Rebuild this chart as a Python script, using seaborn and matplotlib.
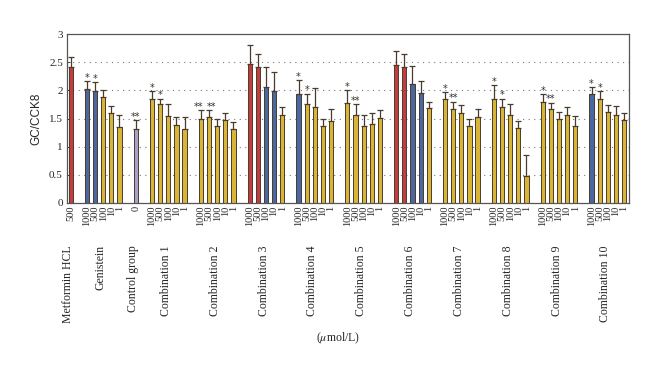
import matplotlib
matplotlib.use("Agg")
import matplotlib.pyplot as plt
import matplotlib.transforms as mtransforms
import numpy as np
import pandas as pd
import seaborn as sns

# groups and doses (umol/L)
groups = ["Metformin HCL", "Genistein", "Control group"] + [f"Combination {i}" for i in range(1, 11)]
doses = [["500"], ["1000", "500", "100", "10", "1"], ["0"]] + [["1000", "500", "100", "10", "1"]] * 10

means = [
    [2.42],
    [2.03, 1.98, 1.885, 1.59, 1.35],
    [1.32],
    [1.855, 1.75, 1.54, 1.39, 1.32],
    [1.49, 1.52, 1.375, 1.48, 1.32],
    [2.47, 2.42, 2.06, 1.99, 1.56],
    [1.94, 1.75, 1.70, 1.375, 1.46],
    [1.78, 1.56, 1.36, 1.41, 1.51],
    [2.45, 2.42, 2.12, 1.96, 1.69],
    [1.855, 1.665, 1.59, 1.36, 1.53],
    [1.855, 1.70, 1.565, 1.34, 0.48],
    [1.80, 1.66, 1.49, 1.56, 1.375],
    [1.94, 1.84, 1.61, 1.565, 1.47],
]
err_top = [
    [2.60],
    [2.16, 2.15, 2.00, 1.72, 1.57],
    [1.47],
    [1.98, 1.85, 1.75, 1.53, 1.53],
    [1.65, 1.65, 1.49, 1.60, 1.44],
    [2.80, 2.64, 2.41, 2.32, 1.70],
    [2.18, 1.94, 2.05, 1.49, 1.67],
    [2.00, 1.75, 1.57, 1.60, 1.65],
    [2.69, 2.64, 2.44, 2.17, 1.80],
    [1.97, 1.80, 1.74, 1.49, 1.66],
    [2.09, 1.85, 1.75, 1.46, 0.85],
    [1.93, 1.78, 1.61, 1.70, 1.55],
    [2.06, 1.99, 1.74, 1.73, 1.60],
]
kinds = [
    ["r"],
    ["b", "b", "y", "y", "y"],
    ["p"],
    ["y"] * 5,
    ["y"] * 5,
    ["r", "r", "b", "b", "y"],
    ["b", "y", "y", "y", "y"],
    ["y"] * 5,
    ["r", "r", "b", "b", "y"],
    ["y"] * 5,
    ["y"] * 5,
    ["y"] * 5,
    ["b", "y", "y", "y", "y"],
]
stars = [
    [""],
    ["*", "*", "", "", ""],
    ["**"],
    ["*", "*", "", "", ""],
    ["**", "**", "", "", ""],
    ["", "", "", "", ""],
    ["*", "*", "", "", ""],
    ["*", "**", "", "", ""],
    ["", "", "", "", ""],
    ["*", "**", "", "", ""],
    ["*", "*", "", "", ""],
    ["*", "**", "", "", ""],
    ["*", "*", "", "", ""],
]

palette = {"r": "#d9262b", "b": "#3a62ae", "y": "#f3c31c", "p": "#a39bd2"}

rows = []
pos = 0
centers = []
for g, ds, ms, es, ks, ss in zip(groups, doses, means, err_top, kinds, stars):
    start = pos
    for d, m, e, k, s in zip(ds, ms, es, ks, ss):
        rows.append(dict(group=g, dose=d, pos=pos, mean=m, top=e, kind=k, star=s))
        pos += 1
    centers.append((start + pos - 1) / 2)
    pos += 1  # empty slot between groups
df = pd.DataFrame(rows)

sns.set_style("white")
plt.rcParams["font.family"] = ["Liberation Serif", "DejaVu Serif"]
plt.rcParams["mathtext.fontset"] = "stix"

fig = plt.figure(figsize=(6.6, 3.73), dpi=100)
ax = fig.add_axes([0.1015, 0.4558, 0.8515, 0.453])

sns.barplot(
    data=df, x="pos", y="mean", hue="kind", palette=palette,
    native_scale=True, dodge=False, width=0.52, errorbar=None,
    edgecolor="#4a3c2c", linewidth=0.7, legend=False, ax=ax,
)
ax.errorbar(
    df["pos"], df["mean"], yerr=[np.zeros(len(df)), df["top"] - df["mean"]],
    fmt="none", ecolor="#4a3c2c", elinewidth=0.9, capsize=2.4, capthick=0.9,
)
# significance stars, nudged apart when two "**" sit side by side
star_list = df["star"].tolist()
for i, r in df.iterrows():
    if not r["star"]:
        continue
    dx = 0.0
    if r["star"] == "**" and i + 1 < len(df) and star_list[i + 1] == "**":
        dx = -0.25
    elif r["star"] == "**" and i > 0 and star_list[i - 1] == "**":
        dx = 0.25
    ax.text(r["pos"] + dx, r["top"] - 0.03, r["star"], ha="center", va="bottom",
            fontsize=7, color="#333333", family="DejaVu Sans")

ax.set_xlim(-0.45, 68.6)
ax.set_ylim(0, 3)
ax.set_yticks(np.arange(0, 3.01, 0.5))
ax.set_yticklabels(["0", "0.5", "1", "1.5", "2", "2.5", "3"], fontsize=8)
for yv in np.arange(0.5, 2.51, 0.5):
    ax.axhline(yv, color="#777777", linestyle=(0, (1, 4)), linewidth=0.8, zorder=0)

ax.set_xticks(df["pos"])
ax.set_xticklabels(df["dose"], rotation=90, fontsize=7.5, va="top")
ax.tick_params(axis="x", length=0, pad=2)
ax.tick_params(axis="y", direction="in", length=2, width=0.6, pad=3, left=True)
ax.set_xlabel("")
ax.set_ylabel("GC/CCK8", family="Liberation Sans", fontsize=8.5, labelpad=5)
for sp in ax.spines.values():
    sp.set_color("#555555")
    sp.set_linewidth(0.9)

trans = mtransforms.blended_transform_factory(ax.transData, fig.transFigure)
for g, c in zip(groups, centers):
    ax.text(c - 0.3, 1 - 245 / 373, g, rotation=90, ha="center", va="top",
            fontsize=8.5, transform=trans)
fig.text(338 / 660, 1 - 338 / 373, r"($\mu$mol/L)", ha="center", va="center", fontsize=8.5)

fig.savefig("out.png", dpi=100)
